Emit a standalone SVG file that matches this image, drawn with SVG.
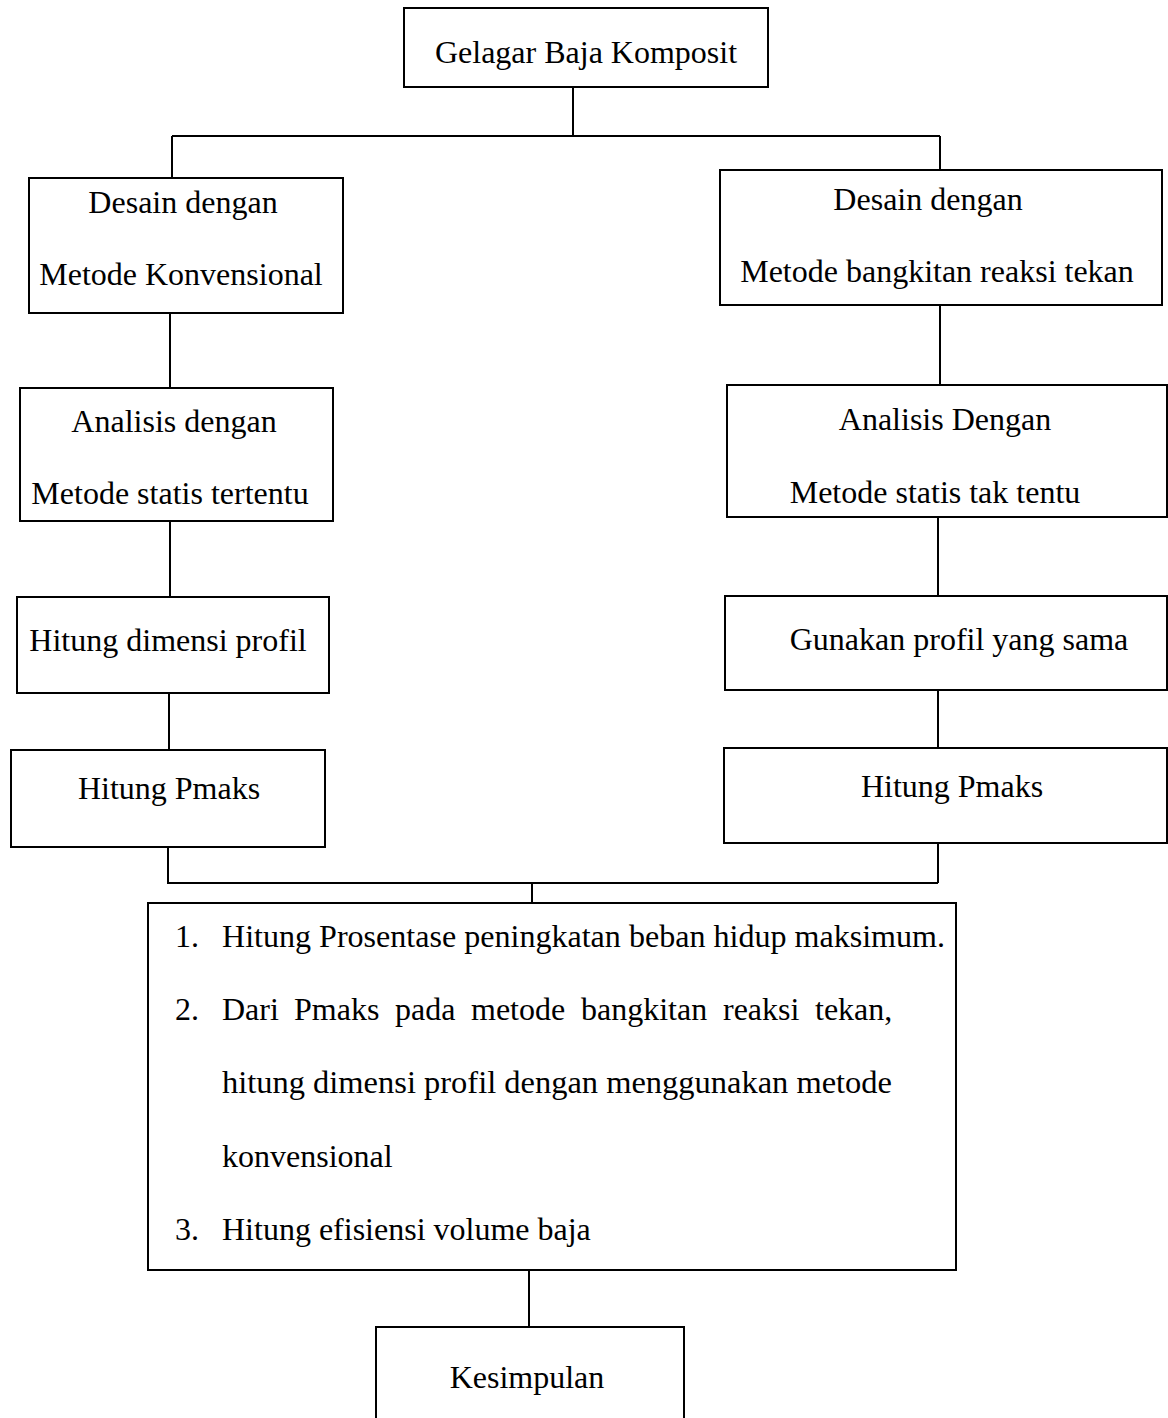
<svg xmlns="http://www.w3.org/2000/svg" width="1168" height="1418" viewBox="0 0 1168 1418">
<style>
.box{fill:#fff;stroke:#000;stroke-width:2}
.ln{fill:none;stroke:#000;stroke-width:2}
text{font-family:"Liberation Serif","Times New Roman",serif;font-size:32px;fill:#000}
.c{text-anchor:middle}
</style>
<rect width="1168" height="1418" fill="#fff"/>
<g id="connectors">
<path class="ln" d="M573 87 V136 M172 136 H940 M172 136 V178 M940 136 V170"/>
<path class="ln" d="M170 313 V388 M170 521 V597 M169 693 V750 M168 847 V883 H938 M938 843 V883"/>
<path class="ln" d="M940 305 V385 M938 517 V596 M938 690 V748"/>
<path class="ln" d="M532 883 V903 M529 1270 V1327"/>
</g>
<g id="n-top"><rect class="box" x="404" y="8" width="364" height="79"/><text class="c" x="586" y="63">Gelagar Baja Komposit</text></g>
<g id="n-l1"><rect class="box" x="29" y="178" width="314" height="135"/><text class="c" x="183" y="213">Desain dengan</text><text class="c" x="181" y="285">Metode Konvensional</text></g>
<g id="n-l2"><rect class="box" x="20" y="388" width="313" height="133"/><text class="c" x="174" y="432">Analisis dengan</text><text class="c" x="170" y="504">Metode statis tertentu</text></g>
<g id="n-l3"><rect class="box" x="17" y="597" width="312" height="96"/><text class="c" x="168" y="651">Hitung dimensi profil</text></g>
<g id="n-l4"><rect class="box" x="11" y="750" width="314" height="97"/><text class="c" x="169" y="799">Hitung Pmaks</text></g>
<g id="n-r1"><rect class="box" x="720" y="170" width="442" height="135"/><text class="c" x="928" y="210">Desain dengan</text><text class="c" x="937" y="282">Metode bangkitan reaksi tekan</text></g>
<g id="n-r2"><rect class="box" x="727" y="385" width="440" height="132"/><text class="c" x="945" y="430">Analisis Dengan</text><text class="c" x="935" y="503">Metode statis tak tentu</text></g>
<g id="n-r3"><rect class="box" x="725" y="596" width="442" height="94"/><text class="c" x="959" y="650">Gunakan profil yang sama</text></g>
<g id="n-r4"><rect class="box" x="724" y="748" width="443" height="95"/><text class="c" x="952" y="797">Hitung Pmaks</text></g>
<g id="n-list"><rect class="box" x="148" y="903" width="808" height="367"/>
<text x="175" y="947">1.</text><text x="222" y="947" textLength="723" lengthAdjust="spacingAndGlyphs">Hitung Prosentase peningkatan beban hidup maksimum.</text>
<text x="175" y="1020">2.</text><text y="1020"><tspan x="222">Dari</tspan><tspan x="294">Pmaks</tspan><tspan x="395">pada</tspan><tspan x="471">metode</tspan><tspan x="581">bangkitan</tspan><tspan x="723">reaksi</tspan><tspan x="815">tekan,</tspan></text>
<text x="222" y="1093" textLength="670" lengthAdjust="spacingAndGlyphs">hitung dimensi profil dengan menggunakan metode</text>
<text x="222" y="1167">konvensional</text>
<text x="175" y="1240">3.</text><text x="222" y="1240">Hitung efisiensi volume baja</text>
</g>
<g id="n-kes"><path class="box" d="M376 1430 V1327 H684 V1430"/><text class="c" x="527" y="1388">Kesimpulan</text></g>
</svg>
